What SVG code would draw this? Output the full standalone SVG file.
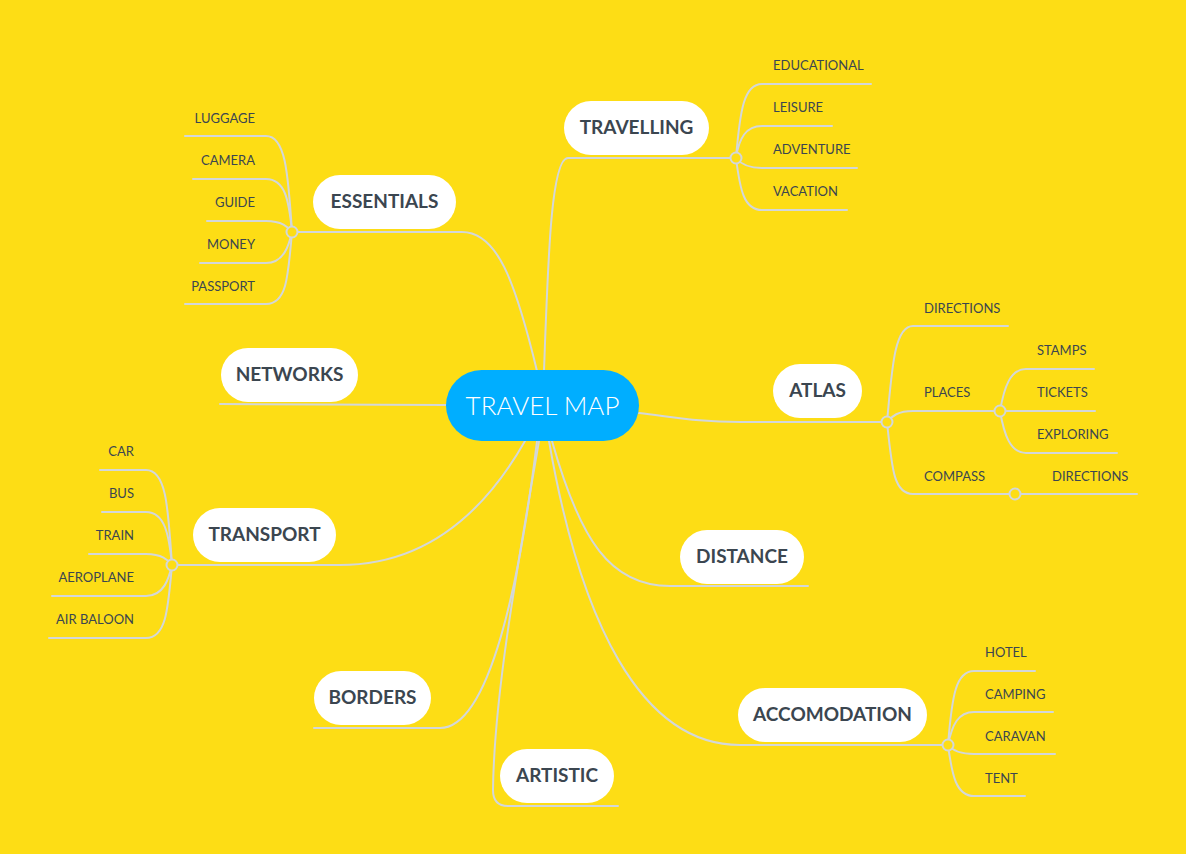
<svg xmlns="http://www.w3.org/2000/svg" width="1186" height="854" viewBox="0 0 1186 854">
<style>
.bg{fill:#FDDD15}
.c{fill:none;stroke:#D3D7D9;stroke-width:2;stroke-linecap:round}
.dot{fill:#FDDD15;stroke:#D3D7D9;stroke-width:2}
.pill{fill:#FFFFFF}
.mt{font-family:Lato,"Liberation Sans",sans-serif;font-weight:700;font-size:19px;fill:#3B4650;text-anchor:middle}
.ct{font-family:Lato,"Liberation Sans",sans-serif;font-weight:400;font-size:13px;fill:#3B4650}
.r{text-anchor:end}
.root{font-family:Lato,"Liberation Sans",sans-serif;font-weight:300;font-size:26px;fill:#FFFFFF;text-anchor:middle}
</style>
<rect class="bg" x="0" y="0" width="1186" height="854"/>
<g id="connectors">
<path class="c" d="M544,371 C548,260 551,158 568,158 L736,158"/>
<path class="c" d="M537,371 C515,280 497,232 462,232 L292,232"/>
<path class="c" d="M446,405 L220,404"/>
<path class="c" d="M639,413 C680,418 700,422 740,422 L887,422"/>
<path class="c" d="M552,441 C580,540 610,586 670,586 L808,586"/>
<path class="c" d="M549,441 C580,620 640,745 740,745 L948,745"/>
<path class="c" d="M525,441 C480,520 420,565 340,565 L172,565"/>
<path class="c" d="M537,441 C520,580 490,728 440,728 L314,728"/>
<path class="c" d="M539,441 C515,580 494,700 493,790 Q493,806 508,806 L618,806"/>
<!-- travelling children -->
<path class="c" d="M736,158 C740,110 744,84 762,84 L871,84"/>
<path class="c" d="M736,158 C739,138 746,126 762,126 L832,126"/>
<path class="c" d="M736,158 C740,163 748,168 762,168 L857,168"/>
<path class="c" d="M736,158 C740,190 744,210 762,210 L847,210"/>
<!-- essentials children -->
<path class="c" d="M292,232 C288,170 285,136 266,136 L185,136"/>
<path class="c" d="M292,232 C289,200 285,179 266,179 L193,179"/>
<path class="c" d="M292,232 C288,227 282,221 266,221 L207,221"/>
<path class="c" d="M292,232 C289,245 284,263 266,263 L200,263"/>
<path class="c" d="M292,232 C288,280 286,304 266,304 L185,304"/>
<!-- atlas children -->
<path class="c" d="M887,422 C892,370 894,326 913,326 L1008,326"/>
<path class="c" d="M887,422 C892,416 898,411 913,411 L1000,411"/>
<path class="c" d="M887,422 C892,470 894,494 913,494 L1015,494"/>
<path class="c" d="M1000,411 C1004,388 1010,369 1026,369 L1094,369"/>
<path class="c" d="M1000,411 L1095,411"/>
<path class="c" d="M1000,411 C1004,434 1010,453 1026,453 L1117,453"/>
<path class="c" d="M1015,494 L1137,494"/>
<!-- accomodation children -->
<path class="c" d="M948,745 C952,695 956,671 974,671 L1035,671"/>
<path class="c" d="M948,745 C952,725 958,712 974,712 L1053,712"/>
<path class="c" d="M948,745 C952,750 960,754 974,754 L1055,754"/>
<path class="c" d="M948,745 C952,775 956,796 974,796 L1025,796"/>
<!-- transport children -->
<path class="c" d="M172,565 C168,505 166,470 146,470 L100,470"/>
<path class="c" d="M172,565 C169,535 165,512 146,512 L102,512"/>
<path class="c" d="M172,565 C168,560 162,554 146,554 L89,554"/>
<path class="c" d="M172,565 C169,578 164,596 146,596 L52,596"/>
<path class="c" d="M172,565 C168,610 166,638 146,638 L49,638"/>
<circle class="dot" cx="736" cy="158" r="5.5"/>
<circle class="dot" cx="292" cy="232" r="5.5"/>
<circle class="dot" cx="887" cy="422" r="5.5"/>
<circle class="dot" cx="1000" cy="411" r="5.5"/>
<circle class="dot" cx="1015" cy="494" r="5.5"/>
<circle class="dot" cx="948" cy="745" r="5.5"/>
<circle class="dot" cx="172" cy="565" r="5.5"/>
</g>
<g id="root">
<rect x="446" y="370" width="193" height="71" rx="35.5" fill="#00AEFF"/>
<text class="root" x="542.5" y="415">TRAVEL MAP</text>
</g>
<g id="travelling"><rect class="pill" x="564" y="101" width="145" height="54" rx="27"/><text class="mt" x="636.5" y="134">TRAVELLING</text></g>
<g id="essentials"><rect class="pill" x="313" y="175" width="143" height="54" rx="27"/><text class="mt" x="384.5" y="208">ESSENTIALS</text></g>
<g id="networks"><rect class="pill" x="221" y="348" width="137" height="54" rx="27"/><text class="mt" x="289.5" y="381">NETWORKS</text></g>
<g id="atlas"><rect class="pill" x="773" y="364" width="89" height="54" rx="27"/><text class="mt" x="817.5" y="397">ATLAS</text></g>
<g id="transport"><rect class="pill" x="193" y="508" width="143" height="54" rx="27"/><text class="mt" x="264.5" y="541">TRANSPORT</text></g>
<g id="distance"><rect class="pill" x="680" y="530" width="124" height="54" rx="27"/><text class="mt" x="742" y="563">DISTANCE</text></g>
<g id="borders"><rect class="pill" x="314" y="671" width="117" height="54" rx="27"/><text class="mt" x="372.5" y="704">BORDERS</text></g>
<g id="accomodation"><rect class="pill" x="738" y="688" width="189" height="54" rx="27"/><text class="mt" x="832.5" y="721">ACCOMODATION</text></g>
<g id="artistic"><rect class="pill" x="500" y="749" width="114" height="54" rx="27"/><text class="mt" x="557" y="782">ARTISTIC</text></g>
<g id="travelling-children">
<text class="ct" x="773" y="70">EDUCATIONAL</text>
<text class="ct" x="773" y="112">LEISURE</text>
<text class="ct" x="773" y="154">ADVENTURE</text>
<text class="ct" x="773" y="196">VACATION</text>
</g>
<g id="essentials-children">
<text class="ct r" x="255" y="123">LUGGAGE</text>
<text class="ct r" x="255" y="165">CAMERA</text>
<text class="ct r" x="255" y="207">GUIDE</text>
<text class="ct r" x="255" y="249">MONEY</text>
<text class="ct r" x="255" y="291">PASSPORT</text>
</g>
<g id="atlas-children">
<text class="ct" x="924" y="313">DIRECTIONS</text>
<text class="ct" x="924" y="397">PLACES</text>
<text class="ct" x="924" y="481">COMPASS</text>
<text class="ct" x="1037" y="355">STAMPS</text>
<text class="ct" x="1037" y="397">TICKETS</text>
<text class="ct" x="1037" y="439">EXPLORING</text>
<text class="ct" x="1052" y="481">DIRECTIONS</text>
</g>
<g id="accomodation-children">
<text class="ct" x="985" y="657">HOTEL</text>
<text class="ct" x="985" y="699">CAMPING</text>
<text class="ct" x="985" y="741">CARAVAN</text>
<text class="ct" x="985" y="783">TENT</text>
</g>
<g id="transport-children">
<text class="ct r" x="134" y="456">CAR</text>
<text class="ct r" x="134" y="498">BUS</text>
<text class="ct r" x="134" y="540">TRAIN</text>
<text class="ct r" x="134" y="582">AEROPLANE</text>
<text class="ct r" x="134" y="624">AIR BALOON</text>
</g>
</svg>
